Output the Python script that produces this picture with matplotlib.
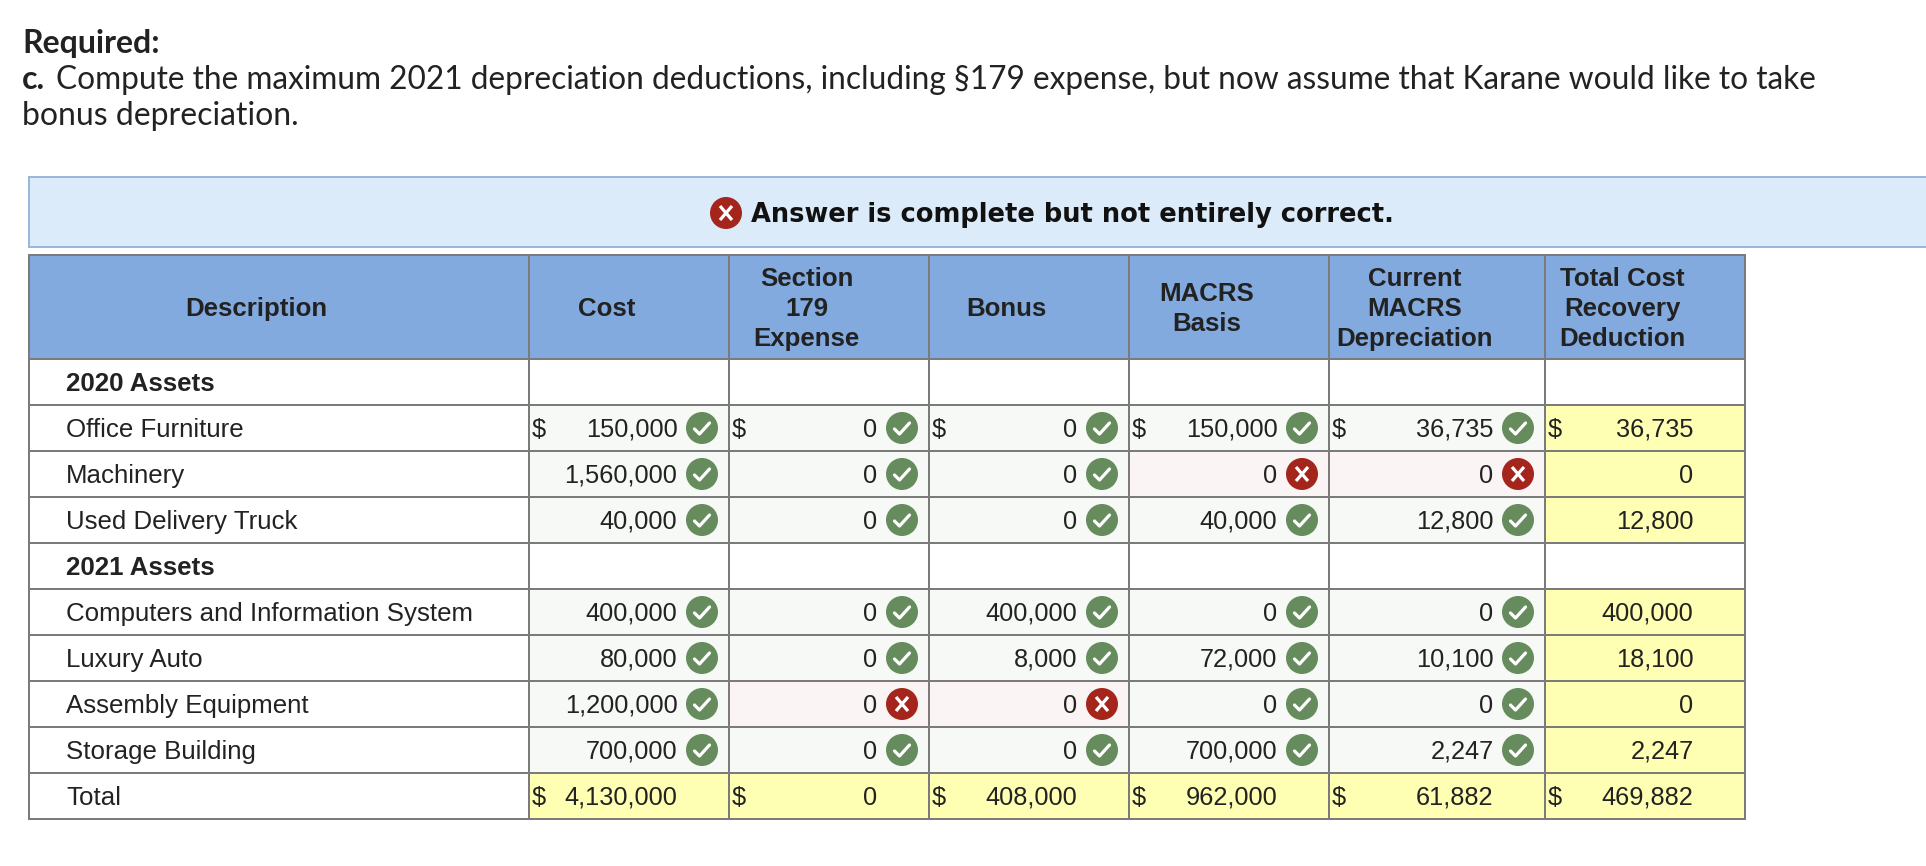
import matplotlib
matplotlib.use("Agg")
import matplotlib.pyplot as plt
from matplotlib.patches import Rectangle, Circle

# -----------------------
# Table content
# -----------------------
columns = ["Cost", "Section\n179\nExpense", "Bonus", "MACRS\nBasis",
           "Current\nMACRS\nDepreciation", "Total Cost\nRecovery\nDeduction"]

row_labels = ["2020 Assets", "Office Furniture", "Machinery", "Used Delivery Truck",
              "2021 Assets", "Computers and Information System", "Luxury Auto",
              "Assembly Equipment", "Storage Building", "Total"]

cost = [None, 150000, 1560000, 40000, None, 400000, 80000, 1200000, 700000, 4130000]
section_179 = [None, 0, 0, 0, None, 0, 0, 0, 0, 0]
bonus = [None, 0, 0, 0, None, 400000, 8000, 0, 0, 408000]
macrs_basis = [None, 150000, 0, 40000, None, 0, 72000, 0, 700000, 962000]
current_macrs = [None, 36735, 0, 12800, None, 0, 10100, 0, 2247, 61882]
total_recovery = [None, 36735, 0, 12800, None, 400000, 18100, 0, 2247, 469882]

# 1 = check, 0 = cross, None = no icon
cost_ok = [None, 1, 1, 1, None, 1, 1, 1, 1, None]
section_179_ok = [None, 1, 1, 1, None, 1, 1, 0, 1, None]
bonus_ok = [None, 1, 1, 1, None, 1, 1, 0, 1, None]
macrs_basis_ok = [None, 1, 0, 1, None, 1, 1, 1, 1, None]
current_macrs_ok = [None, 1, 0, 1, None, 1, 1, 1, 1, None]

dollar_rows = [1, 9]

# -----------------------
# Layout and colours (pixels)
# -----------------------
W, H = 1926, 866
col_edges = [29, 529, 729, 929, 1129, 1329, 1545, 1745]
row_edges = [359, 405, 451, 497, 543, 589, 635, 681, 727, 773, 819]
TABLE_TOP = 255

GRID = "#7b7b7b"
HEADER_BLUE = "#82aadf"
BAND_FILL = "#dcebf9"
BAND_EDGE = "#9ab8dc"
YELLOW = "#ffffb3"
CELL_GREEN = "#f6f9f5"
CELL_RED = "#faf4f5"
ICON_GREEN = "#668c5e"
ICON_RED = "#a4251c"
TEXT = "#222222"

TABLE_FONT = "Liberation Sans"
px = 0.72  # pixels to points at dpi 100
TABLE_SIZE = 25.9 * px
VALUE_SIZE = 25.4 * px


def draw_icon(ax, cx, cy, ok):
    ax.add_patch(Circle((cx, cy), 16, facecolor=ICON_GREEN if ok else ICON_RED,
                        edgecolor="none", zorder=4))
    if ok:
        ax.plot([cx - 7.5, cx - 2.5, cx + 7.5], [cy + 1, cy + 6, cy - 5], color="white",
                lw=3.2 * px, solid_capstyle="round", solid_joinstyle="round", zorder=5)
    else:
        for s in (-1, 1):
            ax.plot([cx - 6, cx + 6], [cy - 7 * s, cy + 7 * s], color="white",
                    lw=3.2 * px, solid_capstyle="butt", zorder=5)


fig = plt.figure(figsize=(W / 100, H / 100), dpi=100, facecolor="white")
ax = fig.add_axes([0, 0, 1, 1])
ax.set_xlim(0, W)
ax.set_ylim(H, 0)
ax.axis("off")

# -----------------------
# Question text
# -----------------------
ax.text(22, 53, "Required:", family="Lato", weight="bold", fontsize=32 * px, color=TEXT)
ax.text(22, 89, "c.", family="Lato", weight="bold", fontsize=32 * px, color=TEXT)
ax.text(56, 89, "Compute the maximum 2021 depreciation deductions, including §179 expense, "
        "but now assume that Karane would like to take",
        family="Lato", fontsize=31.6 * px, color=TEXT)
ax.text(22, 125, "bonus depreciation.", family="Lato", fontsize=32 * px, color=TEXT)

# -----------------------
# Answer banner
# -----------------------
ax.add_patch(Rectangle((29, 177), W, 70, facecolor=BAND_FILL, edgecolor=BAND_EDGE, lw=2 * px))
draw_icon(ax, 726, 213, False)
ax.text(751, 222, "Answer is complete but not entirely correct.", family="DejaVu Sans",
        weight="bold", fontsize=25.7 * px, color="#111111")

# -----------------------
# Table
# -----------------------
value_cols = [cost, section_179, bonus, macrs_basis, current_macrs, total_recovery]
state_cols = [cost_ok, section_179_ok, bonus_ok, macrs_basis_ok, current_macrs_ok, None]

ax.add_patch(Rectangle((col_edges[0], TABLE_TOP), col_edges[-1] - col_edges[0],
                       row_edges[0] - TABLE_TOP, facecolor=HEADER_BLUE, edgecolor="none"))

for c, (values, states) in enumerate(zip(value_cols, state_cols)):
    left, right = col_edges[c + 1], col_edges[c + 2]
    for r, value in enumerate(values):
        if value is None:
            continue
        top, bottom = row_edges[r], row_edges[r + 1]
        cy = (top + bottom) / 2
        state = states[r] if states is not None else None
        if state is None:
            fill = YELLOW
        else:
            fill = CELL_GREEN if state else CELL_RED
        ax.add_patch(Rectangle((left, top), right - left, bottom - top,
                               facecolor=fill, edgecolor="none"))
        ax.text(right - 51.5, cy + 9, f"{value:,}", ha="right", family=TABLE_FONT,
                fontsize=VALUE_SIZE, color=TEXT, zorder=3)
        if r in dollar_rows:
            ax.text(left + 3, cy + 9, "$", family=TABLE_FONT, fontsize=VALUE_SIZE,
                    color=TEXT, zorder=3)
        if state is not None:
            draw_icon(ax, right - 27, cy, state)

for y in [TABLE_TOP] + row_edges:
    ax.plot([col_edges[0] - 1, col_edges[-1] + 1], [y, y], color=GRID, lw=2 * px,
            solid_capstyle="butt", zorder=2)
for x in col_edges:
    ax.plot([x, x], [TABLE_TOP, row_edges[-1]], color=GRID, lw=2 * px,
            solid_capstyle="butt", zorder=2)

# header text sits left of the column centre
header_mid = (TABLE_TOP + row_edges[0]) / 2
ax.text((col_edges[0] + col_edges[1]) / 2 - 22.5, header_mid + 9, "Description", ha="center",
        family=TABLE_FONT, weight="bold", fontsize=TABLE_SIZE, color=TEXT)
for c, name in enumerate(columns):
    lines = name.split("\n")
    cx = (col_edges[c + 1] + col_edges[c + 2]) / 2 - 22.5
    for i, line in enumerate(lines):
        y = header_mid + (i - (len(lines) - 1) / 2) * 30 + 9
        ax.text(cx, y, line, ha="center", family=TABLE_FONT, weight="bold",
                fontsize=TABLE_SIZE, color=TEXT)

for r, label in enumerate(row_labels):
    cy = (row_edges[r] + row_edges[r + 1]) / 2
    is_section = label.endswith("Assets")
    ax.text(66, cy + 9, label, family=TABLE_FONT, fontsize=TABLE_SIZE, color=TEXT,
            weight="bold" if is_section else "normal")

fig.savefig("out.png", dpi=100, facecolor="white")
